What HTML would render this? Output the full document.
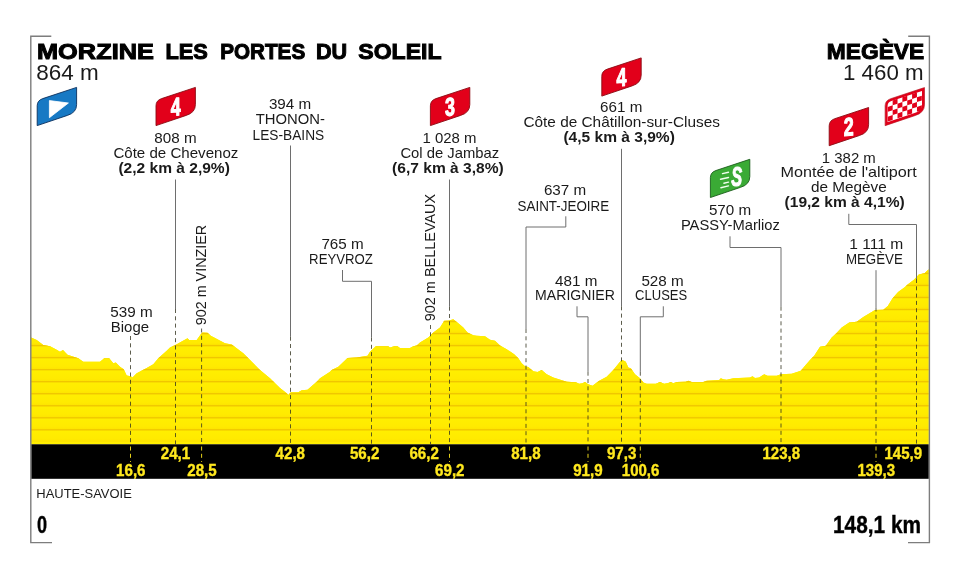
<!DOCTYPE html>
<html lang="fr"><head><meta charset="utf-8"><title>Profil étape : Morzine Les Portes du Soleil – Megève</title>
<style>
html,body{margin:0;padding:0;background:#fff}
body{width:960px;height:579px;overflow:hidden}
svg{display:block;font-family:"Liberation Sans",sans-serif}
</style></head><body>
<svg width="960" height="579" viewBox="0 0 960 579">
<defs>
<linearGradient id="sg" x1="0" y1="0" x2="0" y2="1"><stop offset="0" stop-color="#ffef00"/><stop offset="0.75" stop-color="#ffea00"/><stop offset="1" stop-color="#fde200"/></linearGradient>
<clipPath id="pc"><path d="M31.2,444.3 L31.2,337.5 L36.7,340.0 L43.3,345.0 L50.0,346.3 L55.8,349.2 L60.0,351.7 L63.0,350.0 L67.5,354.7 L78.3,358.3 L83.3,361.7 L100.0,361.7 L104.2,358.3 L109.2,358.3 L113.3,363.3 L115.8,362.5 L120.0,366.7 L123.7,369.2 L126.7,375.5 L130.8,376.2 L132.5,377.5 L136.7,373.3 L146.7,368.0 L153.3,364.2 L158.3,358.3 L166.7,350.8 L170.0,347.5 L175.8,344.7 L187.5,338.3 L189.2,340.0 L196.7,340.0 L200.8,334.2 L202.5,332.5 L207.5,332.8 L210.8,335.8 L225.0,343.3 L231.7,344.5 L243.3,353.3 L248.3,358.3 L260.0,370.0 L270.0,378.3 L280.0,388.0 L286.7,393.3 L288.3,395.0 L290.8,392.2 L298.3,392.2 L301.7,390.3 L307.5,389.7 L316.7,381.7 L320.0,378.3 L330.0,371.7 L331.7,370.0 L338.3,366.7 L347.5,358.0 L356.7,357.5 L367.5,355.8 L370.0,351.7 L375.8,346.3 L388.3,346.3 L390.0,347.5 L394.2,346.3 L397.5,346.3 L400.0,348.0 L410.0,348.0 L413.3,346.3 L416.7,345.5 L420.0,342.5 L428.3,337.5 L433.3,332.5 L440.0,327.5 L444.2,320.8 L449.2,320.5 L453.3,319.2 L458.3,323.3 L463.3,327.5 L467.5,332.5 L473.3,335.3 L476.7,335.8 L485.0,336.3 L490.0,339.7 L495.0,340.8 L500.0,345.5 L506.7,349.2 L514.2,354.2 L518.3,358.3 L521.7,363.3 L525.0,366.2 L528.3,367.0 L533.3,371.3 L537.5,372.0 L541.7,370.0 L546.7,374.2 L553.3,377.5 L566.7,381.7 L575.8,382.2 L579.2,383.8 L582.5,383.3 L585.0,382.0 L588.3,384.2 L592.5,385.8 L599.2,380.8 L606.7,376.7 L613.3,370.0 L620.8,360.8 L622.5,360.0 L625.8,361.7 L628.3,367.5 L630.8,368.3 L635.0,374.2 L640.0,378.3 L643.3,382.5 L646.7,383.8 L655.8,383.8 L660.0,382.0 L664.2,383.7 L668.3,383.0 L670.8,382.0 L673.3,383.3 L676.7,382.0 L685.8,381.7 L688.3,380.8 L691.7,382.0 L703.3,382.0 L706.7,380.8 L719.2,380.0 L720.8,378.3 L723.3,379.2 L726.7,379.7 L733.3,378.3 L750.0,377.5 L752.5,376.3 L755.0,378.0 L759.2,377.5 L764.2,374.2 L767.5,375.8 L776.7,375.8 L780.8,374.2 L791.7,373.8 L800.8,370.8 L805.0,365.8 L810.0,360.0 L814.2,355.8 L820.0,346.7 L825.8,345.8 L831.7,337.5 L835.8,333.7 L841.7,327.5 L849.2,322.5 L856.7,321.7 L863.3,317.0 L875.0,310.0 L883.3,309.7 L887.8,306.0 L892.4,298.4 L898.1,292.1 L905.0,287.0 L907.3,284.7 L914.2,279.5 L918.8,274.4 L924.5,273.2 L928.6,269.3 L928.6,444.3 Z"/></clipPath>
</defs>
<rect width="960" height="579" fill="#fff"/>
<g clip-path="url(#pc)"><rect x="30" y="260" width="900" height="190" fill="#ffec00"/><rect x="30" y="261.42" width="900" height="12.03" fill="url(#sg)"/><rect x="30" y="273.45" width="900" height="12.03" fill="url(#sg)"/><rect x="30" y="285.48" width="900" height="12.03" fill="url(#sg)"/><rect x="30" y="297.51" width="900" height="12.03" fill="url(#sg)"/><rect x="30" y="309.54" width="900" height="12.03" fill="url(#sg)"/><rect x="30" y="321.57" width="900" height="12.03" fill="url(#sg)"/><rect x="30" y="333.60" width="900" height="12.03" fill="url(#sg)"/><rect x="30" y="345.63" width="900" height="12.03" fill="url(#sg)"/><rect x="30" y="357.66" width="900" height="12.03" fill="url(#sg)"/><rect x="30" y="369.69" width="900" height="12.03" fill="url(#sg)"/><rect x="30" y="381.72" width="900" height="12.03" fill="url(#sg)"/><rect x="30" y="393.75" width="900" height="12.03" fill="url(#sg)"/><rect x="30" y="405.78" width="900" height="12.03" fill="url(#sg)"/><rect x="30" y="417.81" width="900" height="12.03" fill="url(#sg)"/><rect x="30" y="429.84" width="900" height="12.03" fill="url(#sg)"/><rect x="30" y="441.87" width="900" height="12.03" fill="url(#sg)"/><rect x="30" y="260.72" width="900" height="1.4" fill="#f0c600"/><rect x="30" y="272.75" width="900" height="1.4" fill="#f0c600"/><rect x="30" y="284.78" width="900" height="1.4" fill="#f0c600"/><rect x="30" y="296.81" width="900" height="1.4" fill="#f0c600"/><rect x="30" y="308.84" width="900" height="1.4" fill="#f0c600"/><rect x="30" y="320.87" width="900" height="1.4" fill="#f0c600"/><rect x="30" y="332.90" width="900" height="1.4" fill="#f0c600"/><rect x="30" y="344.93" width="900" height="1.4" fill="#f0c600"/><rect x="30" y="356.96" width="900" height="1.4" fill="#f0c600"/><rect x="30" y="368.99" width="900" height="1.4" fill="#f0c600"/><rect x="30" y="381.02" width="900" height="1.4" fill="#f0c600"/><rect x="30" y="393.05" width="900" height="1.4" fill="#f0c600"/><rect x="30" y="405.08" width="900" height="1.4" fill="#f0c600"/><rect x="30" y="417.11" width="900" height="1.4" fill="#f0c600"/><rect x="30" y="429.14" width="900" height="1.4" fill="#f0c600"/></g>
<rect x="31.2" y="444.3" width="897.6" height="34.5" fill="#000"/>
<g><line x1="130.5" y1="336.0" x2="130.5" y2="444.3" stroke="#33331f" stroke-width="0.8" stroke-dasharray="4 3.3"/>
<line x1="130.5" y1="446.5" x2="130.5" y2="462.0" stroke="#ffe81e" stroke-width="0.9" stroke-dasharray="4 3.3"/>
<line x1="175.5" y1="179.5" x2="175.5" y2="309.0" stroke="#6e6e6e" stroke-width="1"/>
<line x1="175.5" y1="309.0" x2="175.5" y2="444.3" stroke="#33331f" stroke-width="0.8" stroke-dasharray="4 3.3"/>
<line x1="201.6" y1="328.5" x2="201.6" y2="444.3" stroke="#33331f" stroke-width="0.8" stroke-dasharray="4 3.3"/>
<line x1="201.6" y1="446.5" x2="201.6" y2="462.0" stroke="#ffe81e" stroke-width="0.9" stroke-dasharray="4 3.3"/>
<line x1="290.5" y1="145.5" x2="290.5" y2="336.7" stroke="#6e6e6e" stroke-width="1"/>
<line x1="290.5" y1="336.7" x2="290.5" y2="444.3" stroke="#33331f" stroke-width="0.8" stroke-dasharray="4 3.3"/>
<polyline points="342.5,270 342.5,281.3 371.5,281.3" fill="none" stroke="#6e6e6e" stroke-width="1"/>
<line x1="371.5" y1="281.3" x2="371.5" y2="337.5" stroke="#6e6e6e" stroke-width="1"/>
<line x1="371.5" y1="337.5" x2="371.5" y2="444.3" stroke="#33331f" stroke-width="0.8" stroke-dasharray="4 3.3"/>
<line x1="430.5" y1="325.0" x2="430.5" y2="444.3" stroke="#33331f" stroke-width="0.8" stroke-dasharray="4 3.3"/>
<line x1="449.5" y1="179.5" x2="449.5" y2="306.7" stroke="#6e6e6e" stroke-width="1"/>
<line x1="449.5" y1="306.7" x2="449.5" y2="444.3" stroke="#33331f" stroke-width="0.8" stroke-dasharray="4 3.3"/>
<line x1="449.5" y1="446.5" x2="449.5" y2="462.0" stroke="#ffe81e" stroke-width="0.9" stroke-dasharray="4 3.3"/>
<polyline points="565.8,216.3 565.8,227 526,227" fill="none" stroke="#6e6e6e" stroke-width="1"/>
<line x1="526.0" y1="227.0" x2="526.0" y2="329.0" stroke="#6e6e6e" stroke-width="1"/>
<line x1="526.0" y1="329.0" x2="526.0" y2="444.3" stroke="#33331f" stroke-width="0.8" stroke-dasharray="4 3.3"/>
<polyline points="577,306.3 577,316.8 588,316.8" fill="none" stroke="#6e6e6e" stroke-width="1"/>
<line x1="588.0" y1="316.8" x2="588.0" y2="371.7" stroke="#6e6e6e" stroke-width="1"/>
<line x1="588.0" y1="371.7" x2="588.0" y2="444.3" stroke="#33331f" stroke-width="0.8" stroke-dasharray="4 3.3"/>
<line x1="588.0" y1="446.5" x2="588.0" y2="462.0" stroke="#ffe81e" stroke-width="0.9" stroke-dasharray="4 3.3"/>
<line x1="621.5" y1="148.8" x2="621.5" y2="306.3" stroke="#6e6e6e" stroke-width="1"/>
<line x1="621.5" y1="306.3" x2="621.5" y2="444.3" stroke="#33331f" stroke-width="0.8" stroke-dasharray="4 3.3"/>
<polyline points="663.3,306.3 663.3,316.8 640.3,316.8" fill="none" stroke="#6e6e6e" stroke-width="1"/>
<line x1="640.3" y1="316.8" x2="640.3" y2="371.7" stroke="#6e6e6e" stroke-width="1"/>
<line x1="640.3" y1="371.7" x2="640.3" y2="444.3" stroke="#33331f" stroke-width="0.8" stroke-dasharray="4 3.3"/>
<line x1="640.3" y1="446.5" x2="640.3" y2="462.0" stroke="#ffe81e" stroke-width="0.9" stroke-dasharray="4 3.3"/>
<polyline points="730,236.3 730,247.5 781,247.5" fill="none" stroke="#6e6e6e" stroke-width="1"/>
<line x1="781.0" y1="247.5" x2="781.0" y2="306.7" stroke="#6e6e6e" stroke-width="1"/>
<line x1="781.0" y1="306.7" x2="781.0" y2="444.3" stroke="#33331f" stroke-width="0.8" stroke-dasharray="4 3.3"/>
<line x1="876.0" y1="270.2" x2="876.0" y2="307.5" stroke="#6e6e6e" stroke-width="1"/>
<line x1="876.0" y1="307.5" x2="876.0" y2="444.3" stroke="#33331f" stroke-width="0.8" stroke-dasharray="4 3.3"/>
<line x1="876.0" y1="446.5" x2="876.0" y2="462.0" stroke="#ffe81e" stroke-width="0.9" stroke-dasharray="4 3.3"/>
<polyline points="848.8,213.8 848.8,224.5 916.5,224.5" fill="none" stroke="#6e6e6e" stroke-width="1"/>
<line x1="916.5" y1="224.5" x2="916.5" y2="279.0" stroke="#6e6e6e" stroke-width="1"/>
<line x1="916.5" y1="279.0" x2="916.5" y2="444.3" stroke="#33331f" stroke-width="0.8" stroke-dasharray="4 3.3"/></g>
<path d="M51.3,36.2 H30.8 V542.6 H52" fill="none" stroke="#7d7d7d" stroke-width="1.4"/>
<path d="M908.2,36.2 H929.4 V542.6 H908" fill="none" stroke="#7d7d7d" stroke-width="1.4"/>
<g><g transform="translate(37.2,87.4)"><path d="M39.4,0 L39.4,17.2 Q39.4,25.2 30.2,28 L0,38.2 L0,18.4 Q0,13.0 5.6,11.2 Z" fill="#1779c4" stroke="#0a2f5c" stroke-width="0.9" stroke-linejoin="miter"/><path d="M12.2,13.2 L12.2,30.3 L31.2,15.6 Z" fill="#fff" stroke="#fff" stroke-width="0.8" stroke-linejoin="round"/></g>
<g transform="translate(156.0,87.4)"><path d="M39.4,0 L39.4,17.2 Q39.4,25.2 30.2,28 L0,38.2 L0,18.4 Q0,13.0 5.6,11.2 Z" fill="#e2001a" stroke="#8a0a12" stroke-width="0.9" stroke-linejoin="miter"/><text x="0" y="0" font-size="25.6" font-weight="700" fill="#fff" stroke="#fff" stroke-width="1.1" stroke-linejoin="round" text-anchor="middle" transform="translate(19.6,28.1) skewY(-5) scale(0.7,1)">4</text></g>
<g transform="translate(430.4,87.4)"><path d="M39.4,0 L39.4,17.2 Q39.4,25.2 30.2,28 L0,38.2 L0,18.4 Q0,13.0 5.6,11.2 Z" fill="#e2001a" stroke="#8a0a12" stroke-width="0.9" stroke-linejoin="miter"/><text x="0" y="0" font-size="25.6" font-weight="700" fill="#fff" stroke="#fff" stroke-width="1.1" stroke-linejoin="round" text-anchor="middle" transform="translate(19.6,28.1) skewY(-5) scale(0.7,1)">3</text></g>
<g transform="translate(601.8,57.9)"><path d="M39.4,0 L39.4,17.2 Q39.4,25.2 30.2,28 L0,38.2 L0,18.4 Q0,13.0 5.6,11.2 Z" fill="#e2001a" stroke="#8a0a12" stroke-width="0.9" stroke-linejoin="miter"/><text x="0" y="0" font-size="25.6" font-weight="700" fill="#fff" stroke="#fff" stroke-width="1.1" stroke-linejoin="round" text-anchor="middle" transform="translate(19.6,28.1) skewY(-5) scale(0.7,1)">4</text></g>
<g transform="translate(829.2,107.5)"><path d="M39.4,0 L39.4,17.2 Q39.4,25.2 30.2,28 L0,38.2 L0,18.4 Q0,13.0 5.6,11.2 Z" fill="#e2001a" stroke="#8a0a12" stroke-width="0.9" stroke-linejoin="miter"/><text x="0" y="0" font-size="25.6" font-weight="700" fill="#fff" stroke="#fff" stroke-width="1.1" stroke-linejoin="round" text-anchor="middle" transform="translate(19.6,28.1) skewY(-5) scale(0.7,1)">2</text></g>
<g transform="translate(710.4,159.3)"><path d="M39.4,0 L39.4,17.2 Q39.4,25.2 30.2,28 L0,38.2 L0,18.4 Q0,13.0 5.6,11.2 Z" fill="#3aaa35" stroke="#1a5c1a" stroke-width="0.9" stroke-linejoin="miter"/><line x1="12.1" y1="14.3" x2="18.1" y2="12.9" stroke="#f2fff0" stroke-width="1.4" stroke-linecap="round"/><line x1="10.1" y1="19.9" x2="18.1" y2="18.2" stroke="#f2fff0" stroke-width="1.4" stroke-linecap="round"/><line x1="13.5" y1="23.9" x2="18.1" y2="22.8" stroke="#f2fff0" stroke-width="1.4" stroke-linecap="round"/><line x1="10.5" y1="28.4" x2="18.1" y2="26.6" stroke="#f2fff0" stroke-width="1.4" stroke-linecap="round"/><text x="26.2" y="26.9" font-size="27.3" font-weight="700" font-style="italic" fill="#fff" stroke="#fff" stroke-width="1.0" stroke-linejoin="round" text-anchor="middle" transform="translate(26.2,0) scale(0.6,1) translate(-26.2,0)">S</text></g>
<g transform="translate(885.1,87.5)"><clipPath id="fc"><path d="M39.4,0 L39.4,17.2 Q39.4,25.2 30.2,28 L0,38.2 L0,18.4 Q0,13.0 5.6,11.2 Z"/></clipPath><path d="M39.4,0 L39.4,17.2 Q39.4,25.2 30.2,28 L0,38.2 L0,18.4 Q0,13.0 5.6,11.2 Z" fill="#fff"/><g clip-path="url(#fc)"><g transform="translate(2.7,14.6) skewY(-18.4)" fill="#e2001a"><rect x="0.00" y="4.86" width="4.86" height="4.86"/><rect x="0.00" y="14.58" width="4.86" height="4.86"/><rect x="4.86" y="0.00" width="4.86" height="4.86"/><rect x="4.86" y="9.72" width="4.86" height="4.86"/><rect x="9.72" y="4.86" width="4.86" height="4.86"/><rect x="9.72" y="14.58" width="4.86" height="4.86"/><rect x="14.58" y="0.00" width="4.86" height="4.86"/><rect x="14.58" y="9.72" width="4.86" height="4.86"/><rect x="19.44" y="4.86" width="4.86" height="4.86"/><rect x="19.44" y="14.58" width="4.86" height="4.86"/><rect x="24.30" y="0.00" width="4.86" height="4.86"/><rect x="24.30" y="9.72" width="4.86" height="4.86"/><rect x="29.16" y="4.86" width="4.86" height="4.86"/><rect x="29.16" y="14.58" width="4.86" height="4.86"/></g></g><path d="M39.4,0 L39.4,17.2 Q39.4,25.2 30.2,28 L0,38.2 L0,18.4 Q0,13.0 5.6,11.2 Z" fill="none" stroke="#e2001a" stroke-width="5" clip-path="url(#fc)"/><path d="M39.4,0 L39.4,17.2 Q39.4,25.2 30.2,28 L0,38.2 L0,18.4 Q0,13.0 5.6,11.2 Z" fill="none" stroke="#b00a18" stroke-width="0.6"/></g></g>
<g><text y="58.9" font-size="22.3" font-weight="700" fill="#000" stroke="#000" stroke-width="1.0" stroke-linejoin="miter"><tspan x="37.0" textLength="116.9" lengthAdjust="spacingAndGlyphs">MORZINE</tspan> <tspan x="165.4" textLength="42.4" lengthAdjust="spacingAndGlyphs">LES</tspan> <tspan x="220.2" textLength="85.0" lengthAdjust="spacingAndGlyphs">PORTES</tspan> <tspan x="316.0" textLength="31.2" lengthAdjust="spacingAndGlyphs">DU</tspan> <tspan x="358.3" textLength="83.3" lengthAdjust="spacingAndGlyphs">SOLEIL</tspan></text>
<text x="36.2" y="80.0" font-size="21.6" textLength="62.4" lengthAdjust="spacingAndGlyphs" fill="#1a1a1a">864 m</text>
<text x="826.8" y="58.9" font-size="22.3" font-weight="700" textLength="97.4" lengthAdjust="spacingAndGlyphs" fill="#000" stroke="#000" stroke-width="1.0" stroke-linejoin="miter">MEGÈVE</text>
<text x="843.0" y="79.5" font-size="21.6" textLength="80.6" lengthAdjust="spacingAndGlyphs" fill="#1a1a1a">1 460 m</text>
<text x="154.3" y="142.6" font-size="14.5" textLength="42.3" lengthAdjust="spacingAndGlyphs" fill="#1a1a1a">808 m</text>
<text x="113.4" y="157.5" font-size="14.5" textLength="125.0" lengthAdjust="spacingAndGlyphs" fill="#1a1a1a">Côte de Chevenoz</text>
<text x="118.4" y="172.7" font-size="14.5" font-weight="700" textLength="111.5" lengthAdjust="spacingAndGlyphs" fill="#1a1a1a">(2,2 km à 2,9%)</text>
<text x="268.9" y="109.3" font-size="14.5" textLength="42.3" lengthAdjust="spacingAndGlyphs" fill="#1a1a1a">394 m</text>
<text x="255.8" y="124.2" font-size="14.5" textLength="69.2" lengthAdjust="spacingAndGlyphs" fill="#1a1a1a">THONON-</text>
<text x="252.6" y="139.5" font-size="14.5" textLength="71.6" lengthAdjust="spacingAndGlyphs" fill="#1a1a1a">LES-BAINS</text>
<text x="422.5" y="142.7" font-size="14.5" textLength="54.0" lengthAdjust="spacingAndGlyphs" fill="#1a1a1a">1 028 m</text>
<text x="400.4" y="157.5" font-size="14.5" textLength="98.8" lengthAdjust="spacingAndGlyphs" fill="#1a1a1a">Col de Jambaz</text>
<text x="392.1" y="172.7" font-size="14.5" font-weight="700" textLength="111.6" lengthAdjust="spacingAndGlyphs" fill="#1a1a1a">(6,7 km à 3,8%)</text>
<text x="600.1" y="111.8" font-size="14.5" textLength="42.3" lengthAdjust="spacingAndGlyphs" fill="#1a1a1a">661 m</text>
<text x="523.4" y="126.8" font-size="14.5" textLength="196.5" lengthAdjust="spacingAndGlyphs" fill="#1a1a1a">Côte de Châtillon-sur-Cluses</text>
<text x="563.4" y="142.0" font-size="14.5" font-weight="700" textLength="111.5" lengthAdjust="spacingAndGlyphs" fill="#1a1a1a">(4,5 km à 3,9%)</text>
<text x="543.9" y="195.0" font-size="14.5" textLength="42.3" lengthAdjust="spacingAndGlyphs" fill="#1a1a1a">637 m</text>
<text x="517.6" y="210.5" font-size="14.5" textLength="91.6" lengthAdjust="spacingAndGlyphs" fill="#1a1a1a">SAINT-JEOIRE</text>
<text x="321.4" y="248.5" font-size="14.5" textLength="42.3" lengthAdjust="spacingAndGlyphs" fill="#1a1a1a">765 m</text>
<text x="309.1" y="263.8" font-size="14.5" textLength="63.8" lengthAdjust="spacingAndGlyphs" fill="#1a1a1a">REYVROZ</text>
<text x="555.1" y="285.5" font-size="14.5" textLength="42.3" lengthAdjust="spacingAndGlyphs" fill="#1a1a1a">481 m</text>
<text x="535.1" y="299.6" font-size="14.5" textLength="79.8" lengthAdjust="spacingAndGlyphs" fill="#1a1a1a">MARIGNIER</text>
<text x="641.4" y="285.5" font-size="14.5" textLength="42.3" lengthAdjust="spacingAndGlyphs" fill="#1a1a1a">528 m</text>
<text x="635.1" y="299.6" font-size="14.5" textLength="52.1" lengthAdjust="spacingAndGlyphs" fill="#1a1a1a">CLUSES</text>
<text x="708.9" y="214.6" font-size="14.5" textLength="42.3" lengthAdjust="spacingAndGlyphs" fill="#1a1a1a">570 m</text>
<text x="680.9" y="229.5" font-size="14.5" textLength="99.0" lengthAdjust="spacingAndGlyphs" fill="#1a1a1a">PASSY-Marlioz</text>
<text x="821.8" y="162.7" font-size="14.5" textLength="54.0" lengthAdjust="spacingAndGlyphs" fill="#1a1a1a">1 382 m</text>
<text x="780.4" y="177.0" font-size="14.5" textLength="136.3" lengthAdjust="spacingAndGlyphs" fill="#1a1a1a">Montée de l'altiport</text>
<text x="810.9" y="191.6" font-size="14.5" textLength="75.8" lengthAdjust="spacingAndGlyphs" fill="#1a1a1a">de Megève</text>
<text x="784.6" y="207.0" font-size="14.5" font-weight="700" textLength="120.1" lengthAdjust="spacingAndGlyphs" fill="#1a1a1a">(19,2 km à 4,1%)</text>
<text x="849.3" y="249.3" font-size="14.5" textLength="54.0" lengthAdjust="spacingAndGlyphs" fill="#1a1a1a">1 111 m</text>
<text x="845.9" y="263.8" font-size="14.5" textLength="57.0" lengthAdjust="spacingAndGlyphs" fill="#1a1a1a">MEGÈVE</text>
<text x="110.3" y="317.0" font-size="14.5" textLength="42.4" lengthAdjust="spacingAndGlyphs" fill="#1a1a1a">539 m</text>
<text x="110.8" y="331.8" font-size="14.5" textLength="38.2" lengthAdjust="spacingAndGlyphs" fill="#1a1a1a">Bioge</text>
<text transform="translate(206.3,325.3) rotate(-90)" font-size="14.5" textLength="100.5" lengthAdjust="spacingAndGlyphs" fill="#1a1a1a">902 m VINZIER</text>
<text transform="translate(435.0,321.3) rotate(-90)" font-size="14.5" textLength="127.5" lengthAdjust="spacingAndGlyphs" fill="#1a1a1a">902 m BELLEVAUX</text>
<text x="116.1" y="475.8" font-size="15.6" font-weight="700" textLength="29.4" lengthAdjust="spacingAndGlyphs" fill="#ffe81e" stroke="#ffe81e" stroke-width="0.35">16,6</text>
<text x="160.8" y="458.9" font-size="15.6" font-weight="700" textLength="29.4" lengthAdjust="spacingAndGlyphs" fill="#ffe81e" stroke="#ffe81e" stroke-width="0.35">24,1</text>
<text x="187.3" y="475.8" font-size="15.6" font-weight="700" textLength="29.4" lengthAdjust="spacingAndGlyphs" fill="#ffe81e" stroke="#ffe81e" stroke-width="0.35">28,5</text>
<text x="275.6" y="458.9" font-size="15.6" font-weight="700" textLength="29.4" lengthAdjust="spacingAndGlyphs" fill="#ffe81e" stroke="#ffe81e" stroke-width="0.35">42,8</text>
<text x="349.9" y="458.9" font-size="15.6" font-weight="700" textLength="29.4" lengthAdjust="spacingAndGlyphs" fill="#ffe81e" stroke="#ffe81e" stroke-width="0.35">56,2</text>
<text x="409.4" y="458.9" font-size="15.6" font-weight="700" textLength="29.4" lengthAdjust="spacingAndGlyphs" fill="#ffe81e" stroke="#ffe81e" stroke-width="0.35">66,2</text>
<text x="435.1" y="475.8" font-size="15.6" font-weight="700" textLength="29.4" lengthAdjust="spacingAndGlyphs" fill="#ffe81e" stroke="#ffe81e" stroke-width="0.35">69,2</text>
<text x="511.2" y="458.9" font-size="15.6" font-weight="700" textLength="29.4" lengthAdjust="spacingAndGlyphs" fill="#ffe81e" stroke="#ffe81e" stroke-width="0.35">81,8</text>
<text x="573.2" y="475.8" font-size="15.6" font-weight="700" textLength="29.4" lengthAdjust="spacingAndGlyphs" fill="#ffe81e" stroke="#ffe81e" stroke-width="0.35">91,9</text>
<text x="606.9" y="458.9" font-size="15.6" font-weight="700" textLength="29.4" lengthAdjust="spacingAndGlyphs" fill="#ffe81e" stroke="#ffe81e" stroke-width="0.35">97,3</text>
<text x="621.8" y="475.8" font-size="15.6" font-weight="700" textLength="37.6" lengthAdjust="spacingAndGlyphs" fill="#ffe81e" stroke="#ffe81e" stroke-width="0.35">100,6</text>
<text x="762.5" y="458.9" font-size="15.6" font-weight="700" textLength="37.6" lengthAdjust="spacingAndGlyphs" fill="#ffe81e" stroke="#ffe81e" stroke-width="0.35">123,8</text>
<text x="857.5" y="475.8" font-size="15.6" font-weight="700" textLength="37.6" lengthAdjust="spacingAndGlyphs" fill="#ffe81e" stroke="#ffe81e" stroke-width="0.35">139,3</text>
<text x="884.5" y="458.9" font-size="15.6" font-weight="700" textLength="37.6" lengthAdjust="spacingAndGlyphs" fill="#ffe81e" stroke="#ffe81e" stroke-width="0.35">145,9</text>
<text x="36.3" y="498.2" font-size="13.5" textLength="95.5" lengthAdjust="spacingAndGlyphs" fill="#1a1a1a">HAUTE-SAVOIE</text>
<text x="36.9" y="533.2" font-size="24.0" font-weight="700" textLength="10.1" lengthAdjust="spacingAndGlyphs" fill="#000" stroke="#000" stroke-width="0.4">0</text>
<text x="833.0" y="533.2" font-size="24.0" font-weight="700" textLength="88.0" lengthAdjust="spacingAndGlyphs" fill="#000" stroke="#000" stroke-width="0.4">148,1 km</text></g>
</svg>
</body></html>
